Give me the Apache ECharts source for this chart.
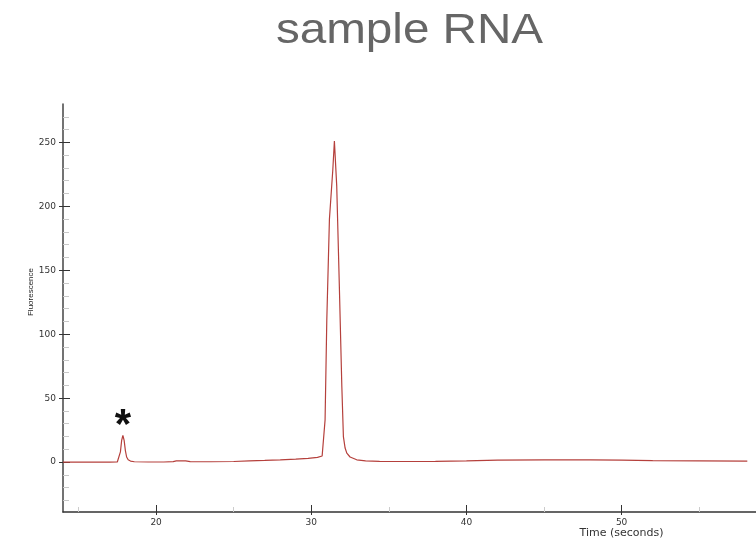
<!DOCTYPE html>
<html>
<head>
<meta charset="utf-8">
<script src="https://cdn.jsdelivr.net/npm/echarts@6/dist/echarts.min.js"></script>
<style>
html, body { margin: 0; padding: 0; background: #fff; }
#chart { width: 756px; height: 540px; }
</style>
</head>
<body>
<div id="chart"></div>
<script>
// trace (seconds, fluorescence)
var timeSec = [14.0, 15.0, 16.0, 17.0, 17.5, 17.62, 17.7, 17.78, 17.86, 17.94, 18.02, 18.1, 18.2, 18.35, 18.6,
  19.5, 20.5, 21.1, 21.3, 21.9, 22.2, 23.5, 25.0, 26.0, 27.0, 28.0, 29.0, 29.8, 30.4, 30.7,
  30.78, 30.89, 31.0, 31.17, 31.39, 31.49, 31.64, 31.81, 31.97, 32.07, 32.18, 32.29, 32.5, 32.93,
  33.5, 34.4, 36.0, 38.0, 40.0, 42.0, 45.0, 48.0, 50.0, 52.0, 55.0, 58.1];
var fluorescence = [0, 0, 0, 0, 0.1, 0.8, 8, 17, 20.8, 17, 9, 4, 1.8, 0.8, 0.3,
  0.1, 0.1, 0.4, 1.0, 1.0, 0.4, 0.3, 0.5, 0.9, 1.3, 1.8, 2.4, 3.0, 3.7, 4.8,
  6, 33, 111, 190, 229, 251, 216, 137, 59, 20, 11, 7, 4, 1.8,
  1.0, 0.6, 0.5, 0.6, 1.0, 1.6, 1.8, 1.8, 1.6, 1.1, 0.9, 0.7];

var xTickLabels = [20, 30, 40, 50];
var xMinorTicks = [15, 25, 35, 45, 55];
var yTickLabels = [0, 50, 100, 150, 200, 250];
var yMinorTicks = [-30, -20, -10, 10, 20, 30, 40, 60, 70, 80, 90, 110, 120, 130, 140,
  160, 170, 180, 190, 210, 220, 230, 240, 260, 270];

// the small peak flagged with an asterisk
var flaggedPeak = [17.86, 20.8];

var xRange = [14.0, 58.66];
var yRange = [-39, 280];

var points = timeSec.map(function (t, i) { return [t, fluorescence[i]]; });

var labelFont = { fontFamily: 'DejaVu Sans', fontSize: 9, color: '#333' };

function bareAxis(range, pos) {
  return {
    type: 'value', min: range[0], max: range[1], position: pos,
    axisLine: { show: false, onZero: false }, axisLabel: { show: false }, splitLine: { show: false }
  };
}

var xMain = bareAxis(xRange, 'bottom');
xMain.axisLine = { show: true, onZero: false, lineStyle: { color: '#333', width: 1.5 } };
xMain.axisLabel = Object.assign({ show: true, margin: 6, customValues: xTickLabels }, labelFont);
xMain.axisTick = { show: true, length: 3, customValues: xTickLabels, lineStyle: { color: '#333' } };

var xIn = bareAxis(xRange, 'bottom');
xIn.axisTick = { show: true, inside: true, length: 7, customValues: xTickLabels, lineStyle: { color: '#333' } };

var xMinor = bareAxis(xRange, 'bottom');
xMinor.axisTick = { show: true, inside: true, length: 5, customValues: xMinorTicks, lineStyle: { color: '#ccc' } };

var yMain = bareAxis(yRange, 'left');
yMain.axisLine = { show: true, onZero: false, lineStyle: { color: '#444', width: 1.5 } };
yMain.axisLabel = Object.assign({ show: true, margin: 7, customValues: yTickLabels }, labelFont);
yMain.axisTick = { show: true, length: 4, customValues: yTickLabels, lineStyle: { color: '#333' } };

var yIn = bareAxis(yRange, 'left');
yIn.axisTick = { show: true, inside: true, length: 7, customValues: yTickLabels, lineStyle: { color: '#333' } };

var yMinor = bareAxis(yRange, 'left');
yMinor.axisTick = { show: true, inside: true, length: 6, customValues: yMinorTicks, lineStyle: { color: '#c8c8c8' } };

var chart = echarts.init(document.getElementById('chart'));
chart.setOption({
  animation: false,
  backgroundColor: '#fff',
  grid: { left: 63, right: 0, top: 104, bottom: 28, outerBoundsMode: 'none' },
  xAxis: [xMain, xIn, xMinor],
  yAxis: [yMain, yIn, yMinor],
  graphic: [
    { type: 'text', x: 409.5, y: 31, scaleX: 1.107,
      style: { text: 'sample RNA', fontFamily: 'Liberation Sans', fontSize: 43, fill: '#666',
               align: 'center', verticalAlign: 'middle' } },
    { type: 'text', x: 31, y: 292, rotation: Math.PI / 2,
      style: { text: 'Fluorescence', fontFamily: 'Liberation Sans', fontSize: 8, fill: '#222',
               align: 'center', verticalAlign: 'middle' } },
    { type: 'text', x: 621.5, y: 533,
      style: { text: 'Time (seconds)', fontFamily: 'DejaVu Sans', fontSize: 11, fill: '#333',
               align: 'center', verticalAlign: 'middle' } }
  ],
  series: [{
    type: 'line',
    data: points,
    symbol: 'none',
    lineStyle: { color: '#b5403c', width: 1.2 },
    markPoint: {
      symbol: 'circle', symbolSize: 0,
      label: { show: true, formatter: '*', position: 'inside', offset: [0, -9],
               fontFamily: 'Liberation Sans', fontWeight: 'bold', fontSize: 42, color: '#111' },
      data: [{ coord: flaggedPeak }]
    }
  }]
});
</script>
</body>
</html>
